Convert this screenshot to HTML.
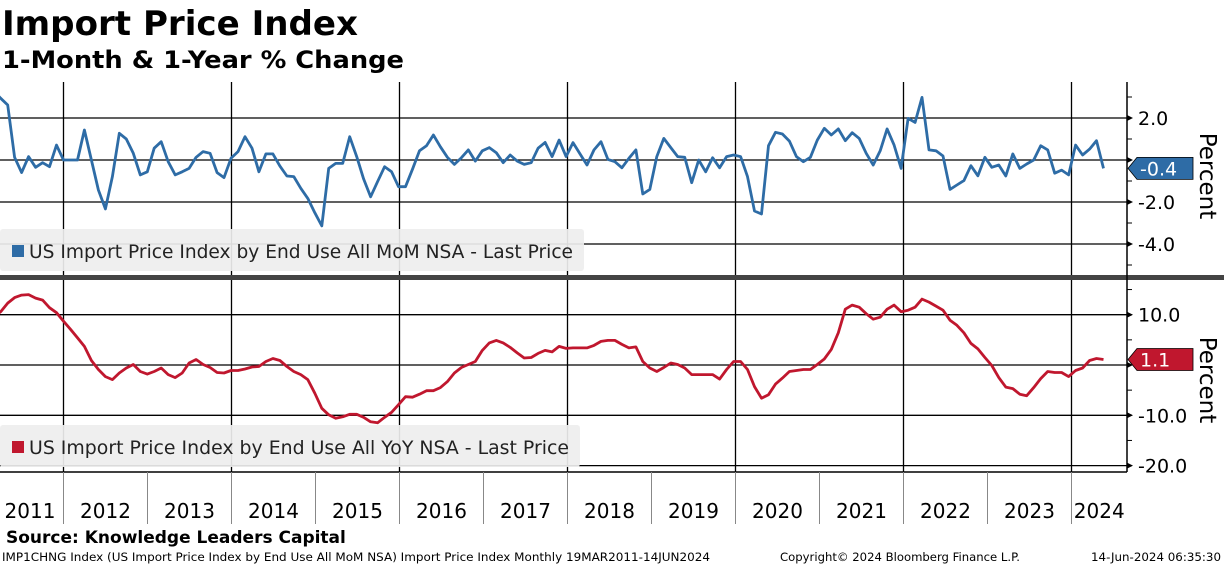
<!DOCTYPE html>
<html><head><meta charset="utf-8">
<style>
body{margin:0;background:#fff;width:1224px;height:566px;overflow:hidden;font-family:"Liberation Sans","DejaVu Sans",sans-serif}
svg{display:block}
</style></head><body>
<svg id="chart" width="1224" height="566" viewBox="0 0 1224 566" xmlns="http://www.w3.org/2000/svg" font-family="'DejaVu Sans','Liberation Sans',sans-serif">
<text x="2" y="35" font-size="34" font-weight="bold" textLength="356" lengthAdjust="spacingAndGlyphs">Import Price Index</text>
<text x="2" y="68" font-size="24" font-weight="bold" textLength="402" lengthAdjust="spacingAndGlyphs">1-Month &amp; 1-Year % Change</text>
<g id="grid"></g>
<g id="top-panel"></g>
<g id="bot-panel"></g>
<rect x="0" y="275" width="1224" height="5" fill="#444"/>
<g id="axes"></g>
<text x="6" y="543" font-size="17" font-weight="bold">Source: Knowledge Leaders Capital</text>
<text x="2" y="561" font-size="11.5" textLength="708" lengthAdjust="spacingAndGlyphs">IMP1CHNG Index (US Import Price Index by End Use All MoM NSA) Import Price Index  Monthly 19MAR2011-14JUN2024</text>
<text x="780" y="561" font-size="11.5" textLength="240" lengthAdjust="spacingAndGlyphs">Copyright© 2024 Bloomberg Finance L.P.</text>
<text x="1091" y="561" font-size="11.5" textLength="130" lengthAdjust="spacingAndGlyphs">14-Jun-2024 06:35:30</text>
</svg>
<script>
const years = ["2011","2012","2013","2014","2015","2016","2017","2018","2019","2020","2021","2022","2023","2024"];
const momTicks = [2.0, 0.0, -2.0, -4.0];
const yoyTicks = [10.0, 0.0, -10.0, -20.0];
const momValues = [3.3,2.94,2.62,0.13,-0.6,0.16,-0.35,-0.13,-0.32,0.71,0,0,0,1.43,0,-1.43,-2.33,-0.79,1.27,1.0,0.32,-0.71,-0.56,0.56,0.87,-0.08,-0.71,-0.56,-0.4,0.13,0.4,0.32,-0.6,-0.84,0.08,0.4,1.11,0.56,-0.56,0.29,0.29,-0.29,-0.76,-0.79,-1.35,-1.83,-2.51,-3.14,-0.4,-0.16,-0.16,1.11,0.16,-0.9,-1.75,-1.03,-0.32,-0.56,-1.27,-1.27,-0.44,0.44,0.68,1.19,0.63,0.13,-0.21,0.11,0.48,-0.05,0.44,0.59,0.35,-0.13,0.24,-0.05,-0.21,-0.13,0.56,0.84,0.16,0.95,0.16,0.83,0.29,-0.24,0.48,0.87,0.03,-0.08,-0.37,0.08,0.48,-1.62,-1.4,0.16,1.03,0.59,0.16,0.13,-1.08,0,-0.56,0.11,-0.37,0.16,0.24,0.16,-0.79,-2.43,-2.57,0.68,1.32,1.24,0.9,0.16,-0.08,0.13,0.95,1.51,1.19,1.48,0.92,1.3,1.03,0.32,-0.24,0.44,1.48,0.71,-0.4,1.98,1.79,2.98,0.48,0.44,0.19,-1.4,-1.19,-0.98,-0.27,-0.75,0.13,-0.35,-0.24,-0.76,0.29,-0.4,-0.19,0,0.68,0.48,-0.63,-0.48,-0.71,0.71,0.24,0.52,0.92,-0.4];
const yoyValues = [9.5,10.6,12.3,13.4,13.9,14.0,13.3,12.9,11.4,10.4,8.7,7.1,5.4,3.7,0.9,-0.9,-2.3,-2.9,-1.6,-0.6,0.1,-1.3,-1.8,-1.3,-0.6,-1.9,-2.5,-1.6,0.4,1.1,0.1,-0.5,-1.5,-1.6,-1.1,-1.1,-0.8,-0.4,-0.3,0.7,1.3,0.9,-0.3,-1.3,-1.9,-2.9,-5.6,-8.6,-9.9,-10.6,-10.3,-9.8,-9.8,-10.4,-11.3,-11.5,-10.4,-9.4,-7.9,-6.3,-6.4,-5.8,-5.1,-5.1,-4.5,-3.3,-1.6,-0.5,0.1,0.7,2.9,4.4,4.9,4.4,3.5,2.4,1.4,1.5,2.3,2.9,2.6,3.7,3.3,3.4,3.4,3.4,3.9,4.7,4.9,4.9,4.1,3.4,3.6,0.7,-0.6,-1.3,-0.5,0.4,0.1,-0.6,-1.9,-1.9,-1.9,-1.9,-2.8,-0.9,0.7,0.7,-0.9,-4.3,-6.6,-5.9,-3.8,-2.6,-1.3,-1.1,-0.9,-0.9,0.1,1.2,3.1,6.4,11.1,11.9,11.5,10.2,9.1,9.5,11.1,11.9,10.6,10.9,11.5,13.1,12.5,11.7,10.9,8.9,7.9,6.4,4.3,3.2,1.5,-0.1,-2.5,-4.4,-4.7,-5.8,-6.1,-4.5,-2.7,-1.3,-1.5,-1.5,-2.3,-1.1,-0.6,0.9,1.3,1.1];

const NS="http://www.w3.org/2000/svg";
function mk(tag, attrs, parent){const e=document.createElementNS(NS,tag);for(const k in attrs)e.setAttribute(k,attrs[k]);parent.appendChild(e);return e;}
const AX=1127;
function xOf(i){return 63.5+(i-10)*6.98;}
function xYear(j){return 63.5+(j-1)*84;}
function yMom(v){return 160-v*21;}
function yYoy(v){return 365-v*5.03;}
const grid=document.getElementById('grid'), axes=document.getElementById('axes');

momTicks.forEach(t=>{
  const l=mk('line',{x1:0,x2:AX,y1:yMom(t),y2:yMom(t),stroke:'#000','stroke-width':1.3},grid);
  
  
  if(t!==0){
    const tx=mk('text',{x:1138,y:yMom(t)+7,'font-size':19},axes);
    
    
    tx.textContent=t.toFixed(1);
  }
  mk('path',{d:`M${AX} ${yMom(t)-3}L${AX+6} ${yMom(t)}L${AX} ${yMom(t)+3}Z`,fill:'#000'},axes);
});
for(let v=3;v>=-5;v--){mk('line',{x1:AX,x2:AX+5,y1:yMom(v),y2:yMom(v),stroke:'#000'},axes);}
yoyTicks.forEach(t=>{
  const l=mk('line',{x1:0,x2:AX,y1:yYoy(t),y2:yYoy(t),stroke:'#000','stroke-width':1.3},grid);
  
  
  if(t!==0){
    const tx=mk('text',{x:1138,y:yYoy(t)+7,'font-size':19},axes);
    
    
    tx.textContent=t.toFixed(1);
  }
  mk('path',{d:`M${AX} ${yYoy(t)-3}L${AX+6} ${yYoy(t)}L${AX} ${yYoy(t)+3}Z`,fill:'#000'},axes);
});
for(let v=15;v>=-20;v-=5){mk('line',{x1:AX,x2:AX+5,y1:yYoy(v),y2:yYoy(v),stroke:'#000'},axes);}
for(let j=1;j<years.length;j+=2){
  const x=xYear(j);
  const l=mk('line',{x1:x,x2:x,y1:82,y2:472,stroke:'#000','stroke-width':1.3},grid);
  
  
}
mk('line',{x1:AX,x2:AX,y1:82,y2:472,stroke:'#000','stroke-width':1.5},axes);
mk('line',{x1:0,x2:AX,y1:472,y2:472,stroke:'#000','stroke-width':1.5},axes);
years.forEach((y,j)=>{
  const x0=xYear(j), x1=Math.min(xYear(j+1),AX);
  if(j>0){mk('line',{x1:x0,x2:x0,y1:472,y2:524,stroke:'#888','stroke-width':1},axes);}
  const tx=mk('text',{x:j===0?30:(x0+x1)/2,y:518,'font-size':20,'text-anchor':'middle'},axes);
  
  
  tx.textContent=y;
});
function line(vals,yf,color,parent,name){
  const d=vals.map((v,i)=>(i?'L':'M')+xOf(i).toFixed(1)+' '+yf(v).toFixed(1)).join('');
  const p=mk('path',{d:d,fill:'none',stroke:color,'stroke-width':2.8,'stroke-linejoin':'round'},parent);
  
  
}
const tp=document.getElementById('top-panel'), bp=document.getElementById('bot-panel');
const cp=mk('clipPath',{id:'ct'},tp);
mk('rect',{x:0,y:82,width:AX,height:193},cp);
const tg=mk('g',{'clip-path':'url(#ct)'},tp);
line(momValues,yMom,'#2e6ca6',tg,'mom-series-line');
line(yoyValues,yYoy,'#c0172e',bp,'yoy-series-line');
function legend(parent,y,w,tl,color,text,name){
  const g=mk('g',{},parent);
  
  
  mk('rect',{x:0,y:y,width:w,height:42,rx:3,fill:'#eeeeee','fill-opacity':0.92},g);
  mk('rect',{x:12,y:y+16,width:12,height:12,fill:color},g);
  const t=mk('text',{x:29,y:y+29,'font-size':19,fill:'#222',textLength:tl,lengthAdjust:'spacingAndGlyphs'},g);
  t.textContent=text;
}
legend(tp,229,584,544,'#2e6ca6','US Import Price Index by End Use All MoM NSA - Last Price','mom-legend');
legend(bp,425,580,540,'#c0172e','US Import Price Index by End Use All YoY NSA - Last Price','yoy-legend');
function badge(v,yf,color,name){
  const y=yf(v);
  const g=mk('g',{},axes);
  
  
  mk('path',{d:`M1128 ${y}L1137 ${y-11}L1193 ${y-11}L1193 ${y+11}L1137 ${y+11}Z`,fill:color,stroke:'#000','stroke-width':0.8},g);
  const t=mk('text',{x:1140,y:y+7,'font-size':19,fill:'#fff'},g);
  t.textContent=v.toFixed(1);
}
badge(momValues[momValues.length-1],yMom,'#2e6ca6','mom-last-value-badge');
badge(yoyValues[yoyValues.length-1],yYoy,'#c0172e','yoy-last-value-badge');
[[176,'mom-axis-title'],[380,'yoy-axis-title']].forEach(([cy,n])=>{
  const t=mk('text',{x:1200,y:cy,'font-size':23,'text-anchor':'middle',transform:`rotate(90 1200 ${cy})`},axes);
  
  
  t.textContent='Percent';
});
</script>
</body></html>
